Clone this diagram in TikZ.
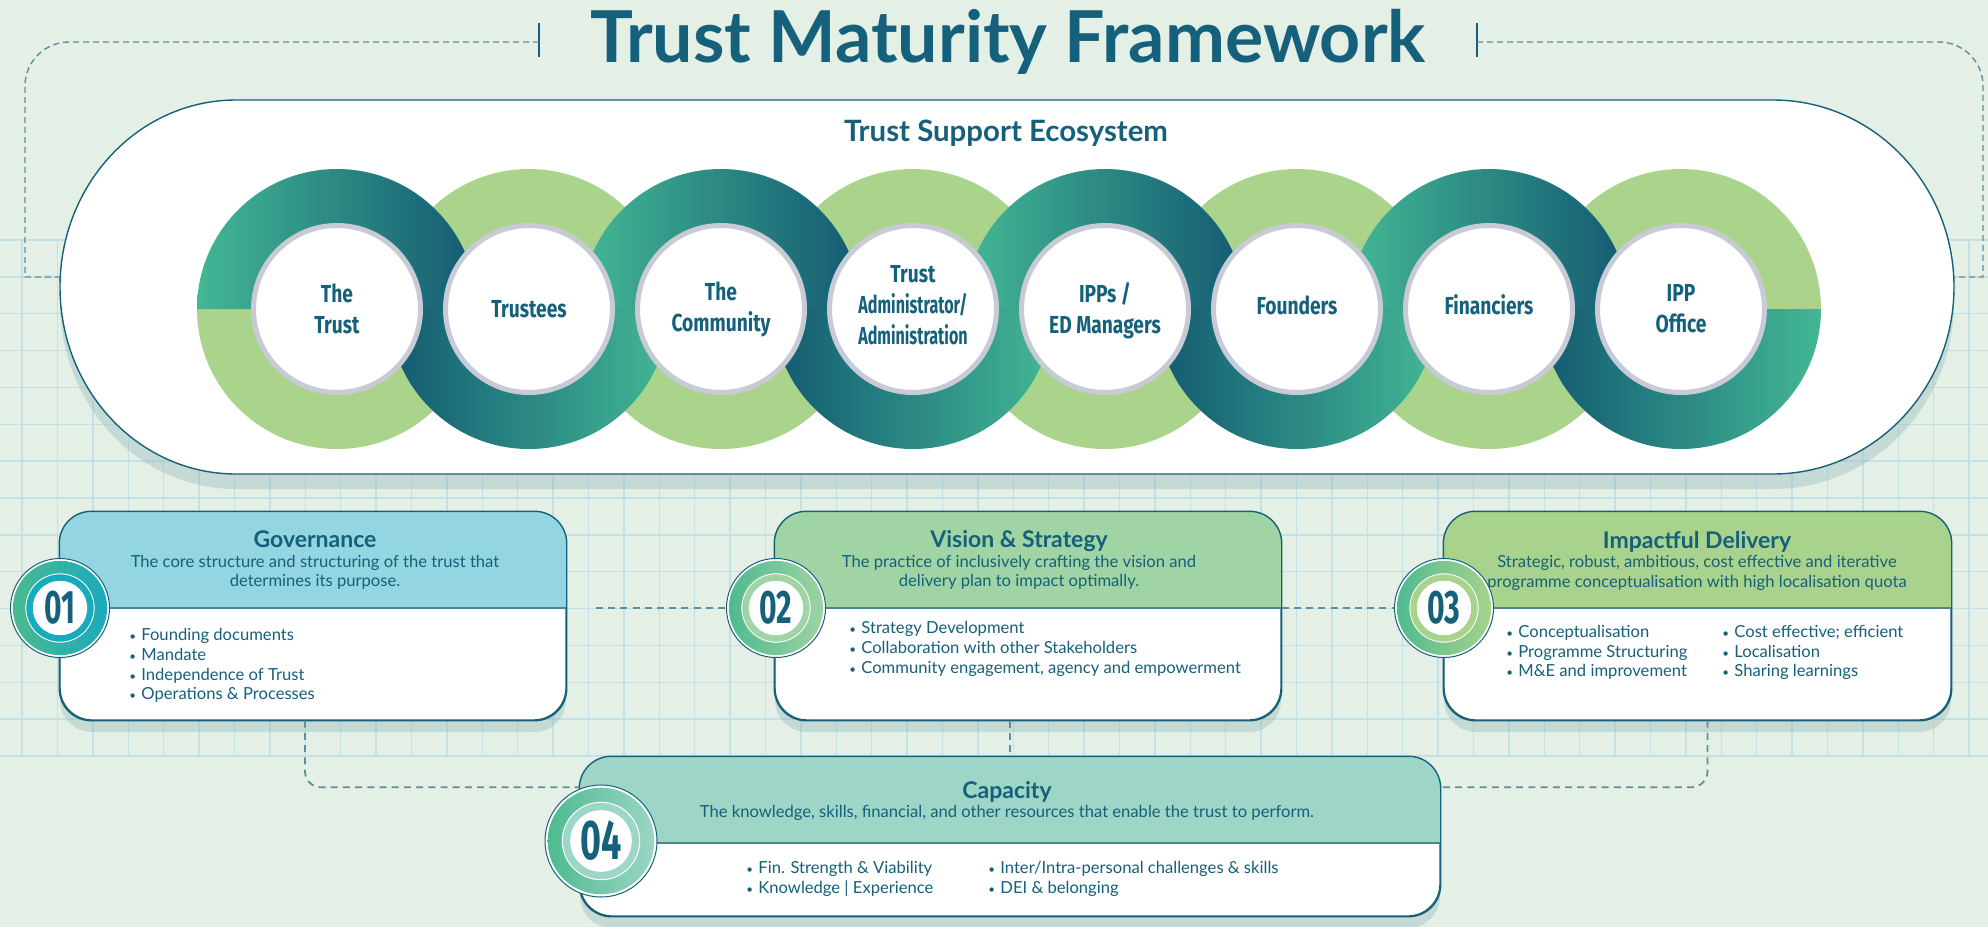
\documentclass[tikz,border=0pt]{standalone}
\usepackage{fontspec}
\usepackage{graphicx}
\setmainfont{Lato}
\newfontfamily\condfont{Fira Sans}[FakeStretch=0.78]
\newfontfamily\numfont{Fira Sans}[FakeStretch=0.64]
\usetikzlibrary{positioning, shadows}

\definecolor{bgc}{HTML}{E4EFE5}
\definecolor{gridc}{HTML}{C2E0E6}
\definecolor{ink}{HTML}{15607A}
\definecolor{dashc}{HTML}{5F8F9C}
\definecolor{ringG}{HTML}{43B794}
\definecolor{ringD}{HTML}{135A72}
\definecolor{ringL}{HTML}{AAD48C}
\definecolor{rimc}{HTML}{C8CBD6}
\definecolor{govc}{HTML}{93D5E0}
\definecolor{visc}{HTML}{A0D4A4}
\definecolor{impc}{HTML}{A9D38C}
\definecolor{capc}{HTML}{9DD6C6}
\definecolor{cyanc}{HTML}{18AABD}
\definecolor{badgeG}{HTML}{4CBA8F}
\definecolor{shadc}{HTML}{8FB5BA}
\definecolor{splitc}{HTML}{4E8593}

\newcommand\dotitem{\makebox[6pt][l]{\scalebox{0.7}{\textbullet}}}

\tikzset{
    link/.style={dashc, line width=0.9pt, dash pattern=on 3.5pt off 2.6pt}, % dashed connectors
    edgeframe/.style={dashc, line width=0.7pt, dash pattern=on 3pt off 2pt}, % frame round the top
    gridline/.style={gridc, line width=0.7pt},
    card/.style={rectangle, rounded corners=16pt, fill=white, draw=ink, line width=0.7pt, inner sep=0pt,
        drop shadow={shadow xshift=0pt, shadow yshift=-6pt, fill=shadc, opacity=0.35}},
    divider/.style={splitc, line width=0.7pt},
    hd/.style={font=\bfseries\fontsize{11.5}{13}\selectfont, text=ink, anchor=base, inner sep=0pt},
    sub/.style={font=\fontsize{8.3}{10}\selectfont, text=ink, anchor=base, inner sep=0pt},
    bul/.style={font=\fontsize{8.3}{10}\selectfont, text=ink, anchor=base west, inner sep=0pt},
}

\begin{document}
\begin{tikzpicture}[
    x=0.5pt, y=-0.5pt,
    ringtext/.style={font=\condfont\bfseries\fontsize{12.3}{15.5}\selectfont, text=ink, align=center},
    badge/.style 2 args={circle, draw=ink, line width=0.5pt, fill=white, minimum size=#2, inner sep=0pt,
        text=ink, font=\numfont\bfseries\fontsize{23.5}{23.5}\selectfont,
        path picture={
            \fill[left color=badgeG, right color=#1] (path picture bounding box.center) circle[radius={0.476*#2}];
            \fill[white] (path picture bounding box.center) circle[radius={0.35*#2}];
            \fill[#1] (path picture bounding box.center) circle[radius={0.34*#2}];
            \fill[white] (path picture bounding box.center) circle[radius={0.275*#2}];
        }},
]
\useasboundingbox (0,0) rectangle (1988,927);
\fill[bgc] (0,0) rectangle (1988,927);

% grid
\foreach \k in {0,...,14}
    \draw[gridline] (0,{240+36.857*\k}) -- (1988,{240+36.857*\k});
\foreach \k in {0,...,55}
    \draw[gridline] ({22+35.4*\k},240) -- ({22+35.4*\k},756);

% title and frame
\node[font=\bfseries\fontsize{35.8}{36}\selectfont, text=ink, anchor=base, inner sep=0pt] (title) at (1008,62) {Trust Maturity Framework};
\draw[ink, line width=0.6pt] (539,23) -- (539,57);
\draw[ink, line width=0.6pt] (1477,23) -- (1477,57);
\coordinate (pillW) at (60,277);
\coordinate (pillE) at (1954,277);
\draw[edgeframe, rounded corners=22pt] (539,42) -- (25,42) [sharp corners] -- (25,277) -- (pillW);
\draw[edgeframe, rounded corners=22pt] (1477,42) -- (1983,42) [sharp corners] -- (1983,277) -- (pillE);

% ecosystem pill
\fill[shadc, opacity=0.35] (236,115) -- (1773,115) arc[start angle=-90, end angle=90, x radius=181, y radius=187]
    -- (236,489) arc[start angle=90, end angle=270, x radius=176, y radius=187] -- cycle;
\draw[ink, line width=0.7pt, fill=white] (236,100) -- (1773,100) arc[start angle=-90, end angle=90, x radius=181, y radius=187]
    -- (236,474) arc[start angle=90, end angle=270, x radius=176, y radius=187] -- cycle;
\node[font=\bfseries\fontsize{14.7}{16}\selectfont, text=ink] (eco) at (1006,133) {Trust Support Ecosystem};

% rings: light halves, then dark halves
\foreach \cx in {337,721,1105,1489}
    \fill[ringL] ({\cx-140},309) arc[start angle=180, end angle=0, radius=140] -- ({\cx+84},309) arc[start angle=0, end angle=180, radius=84] -- cycle;
\foreach \cx in {529,913,1297,1681}
    \fill[ringL] ({\cx-140},309) arc[start angle=180, end angle=360, radius=140] -- ({\cx+84},309) arc[start angle=360, end angle=180, radius=84] -- cycle;
\foreach \cx in {337,721,1105,1489}
    \shade[left color=ringG, right color=ringD] ({\cx-140},309) arc[start angle=180, end angle=360, radius=140] -- ({\cx+84},309) arc[start angle=360, end angle=180, radius=84] -- cycle;
\foreach \cx in {529,913,1297,1681}
    \shade[left color=ringD, right color=ringG] ({\cx-140},309) arc[start angle=180, end angle=0, radius=140] -- ({\cx+84},309) arc[start angle=0, end angle=180, radius=84] -- cycle;
\foreach \cx in {337,529,721,913,1105,1297,1489,1681}
    \draw[rimc, line width=2.5pt, fill=white] (\cx,309) circle[radius=83.5];

\node[ringtext] (r1) at (337,309) {The\\Trust};
\node[ringtext] (r2) at (529,309) {Trustees};
\node[ringtext] (r3) at (721,309) {The\\Community};
\node[ringtext] (r4) at (913,305) {Trust\\\scalebox{0.84}[1]{Administrator/}\\\scalebox{0.84}[1]{Administration}};
\node[ringtext] (r5) at (1105,311) {IPPs /\\ED Managers};
\node[ringtext] (r6) at (1297,305) {Founders};
\node[ringtext] (r7) at (1489,305) {Financiers};
\node[ringtext] (r8) at (1681,309) {IPP\\Office};

% cards
\node[card, minimum width=253pt, minimum height=104pt] (gov) at (313,616) {};
\node[card, minimum width=253pt, minimum height=104pt] (vis) at (1028,616) {};
\node[card, minimum width=253.5pt, minimum height=104pt] (imp) at (1697.5,616) {};
\node[card, minimum width=430pt, minimum height=79.5pt] (cap) at (1010,836.5) {};
\foreach \n/\c/\s in {gov/govc/4pt, vis/visc/4pt, imp/impc/4pt, cap/capc/-3.25pt}{
    \begin{scope}
        \clip (\n.north west) rectangle ([yshift=\s]\n.east);
        \fill[\c, rounded corners=16pt] (\n.north west) rectangle (\n.south east);
    \end{scope}
    \draw[divider] ([yshift=\s]\n.west) -- ([yshift=\s]\n.east);
    \draw[ink, line width=0.7pt, rounded corners=16pt] (\n.north west) rectangle (\n.south east);
}

\node[hd] (govH) at (315,547) {Governance};
\node[sub] (govS1) at (315,567) {The core structure and structuring of the trust that};
\node[sub] (govS2) at (315,586) {determines its purpose.};
\node[bul] (gov1) at (129,640) {\dotitem Founding documents};
\node[bul] (gov2) at (129,660) {\dotitem Mandate};
\node[bul] (gov3) at (129,680) {\dotitem Independence of Trust};
\node[bul] (gov4) at (129,699) {\dotitem Operations \& Processes};

\node[hd] (visH) at (1019,547) {Vision \& Strategy};
\node[sub] (visS1) at (1019,567) {The practice of inclusively crafting the vision and};
\node[sub] (visS2) at (1019,586) {delivery plan to impact optimally.};
\node[bul] (vis1) at (849,633) {\dotitem Strategy Development};
\node[bul] (vis2) at (849,653) {\dotitem Collaboration with other Stakeholders};
\node[bul] (vis3) at (849,673) {\dotitem Community engagement, agency and empowerment};

\node[hd] (impH) at (1697,548) {Impactful Delivery};
\node[sub] (impS1) at (1697,567) {Strategic, robust, ambitious, cost effective and iterative};
\node[sub] (impS2) at (1697,587) {programme conceptualisation with high localisation quota};
\node[bul] (imp1) at (1506,637) {\dotitem Conceptualisation};
\node[bul] (imp2) at (1506,657) {\dotitem Programme Structuring};
\node[bul] (imp3) at (1506,676) {\dotitem M\&E and improvement};
\node[bul] (imp4) at (1722,637) {\dotitem Cost effective; efficient};
\node[bul] (imp5) at (1722,657) {\dotitem Localisation};
\node[bul] (imp6) at (1722,676) {\dotitem Sharing learnings};

\node[hd] (capH) at (1007,798) {Capacity};
\node[sub] (capS1) at (1007,817) {The knowledge, skills, financial, and other resources that enable the trust to perform.};
\node[bul] (cap1) at (746,873) {\dotitem Fin. Strength \& Viability};
\node[bul] (cap2) at (746,893) {\dotitem Knowledge | Experience};
\node[bul] (cap3) at (988,873) {\dotitem Inter/Intra-personal challenges \& skills};
\node[bul] (cap4) at (988,893) {\dotitem DEI \& belonging};

% badges
\node[badge={cyanc}{49.5pt}] (b1) at (60,608) {01};
\node[badge={visc}{49.5pt}] (b2) at (776,608) {02};
\node[badge={impc}{49.5pt}] (b3) at (1444,608) {03};
\node[badge={capc}{56pt}, font=\numfont\bfseries\fontsize{28}{28}\selectfont] (b4) at (601,841) {04};

% connectors
\coordinate (gap1) at (596,608);
\draw[link] (gap1) -- (b2);
\draw[link] (vis.east |- b3) -- (b3);
\draw[link, rounded corners=8pt] ([xshift=-4pt]gov.south) |- ([yshift=-15.5pt]cap.north west);
\draw[link] (vis.south -| cap.north) -- (cap.north);
\draw[link, rounded corners=8pt] ([xshift=5pt]imp.south) |- ([yshift=-15.5pt]cap.north east);
\end{tikzpicture}
\end{document}
